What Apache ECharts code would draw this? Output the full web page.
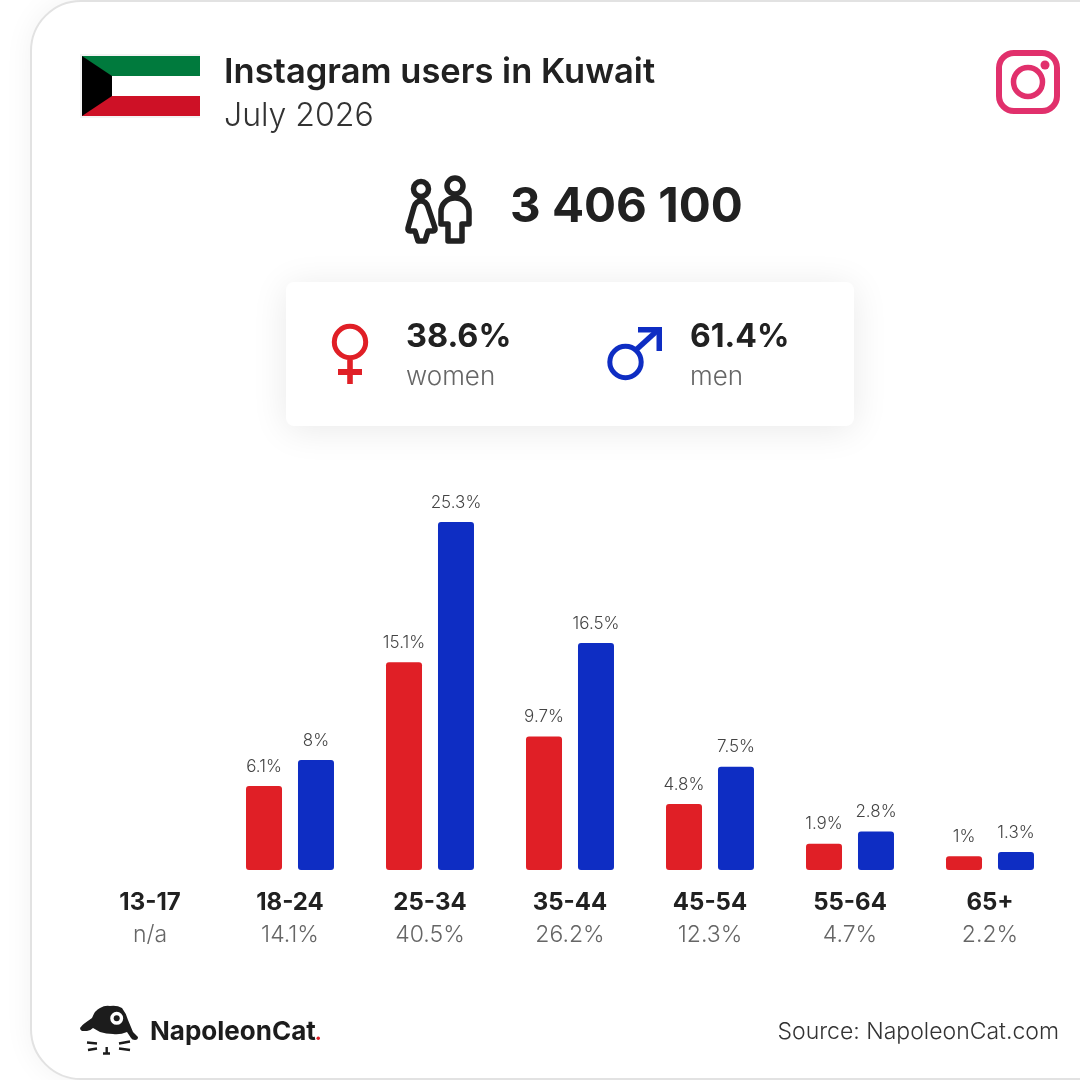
<!DOCTYPE html>
<html><head><meta charset="utf-8">
<style>html,body{margin:0;padding:0;background:#fff}#c{width:1080px;height:1080px}</style>
<script src="https://cdn.jsdelivr.net/npm/echarts@6/dist/echarts.min.js"></script>
</head><body><div id="c"></div>
<script>
const ageGroups = ['13-17','18-24','25-34','35-44','45-54','55-64','65+'];
const ageTotals = ['n/a','14.1%','40.5%','26.2%','12.3%','4.7%','2.2%'];
const women = [null,6.1,15.1,9.7,4.8,1.9,1];
const men = [null,8,25.3,16.5,7.5,2.8,1.3];
const titleText = 'Instagram users in Kuwait';
const dateText = 'July 2026';
const totalText = '3 406 100';
const womenShare = '38.6%';
const menShare = '61.4%';
const FONT = 'Inter';
const INK = '#212121', RED = '#e01f26', BLUE = '#0e2dc3';

function T(x,y,text,size,weight,fill,align){
  return {type:'text',z:5,style:{x,y,text,fontFamily:FONT,fontSize:size,fontWeight:weight,fill,textAlign:align||'left',textVerticalAlign:'middle'}};
}
let pathCount = 0;
function P(d,style){
  const name = 'iconPath'+(pathCount++);
  echarts.graphic.registerShape(name, echarts.graphic.extendPath(d,{}));
  return {type:name,z:5,style};
}
function R(x,y,w,h,fill,r){return {type:'rect',z:5,shape:{x,y,width:w,height:h,r:r||0},style:{fill}};}
function C(cx,cy,r,stroke,lw,fill){return {type:'circle',z:5,shape:{cx,cy,r},style:{fill:fill||'none',stroke,lineWidth:lw}};}
function Poly(points,fill){return {type:'polygon',z:5,shape:{points},style:{fill}};}

const graphics = [
  {type:'rect',z:0,shape:{x:31,y:1,width:1140,height:1078,r:50},style:{fill:'#fff',stroke:'#e2e2e2',lineWidth:2,shadowBlur:30,shadowColor:'rgba(0,0,0,0.06)'}},
  {type:'rect',z:1,shape:{x:286,y:282,width:568,height:144,r:8},style:{fill:'#fff',shadowBlur:36,shadowColor:'rgba(0,0,0,0.09)',shadowOffsetY:4}},
  // flag
  R(80,54,120,64,'#f3f3f3'),
  R(82,56,118,20,'#007a3d'),R(82,76,118,20,'#ffffff'),R(82,96,118,20,'#ce1126'),
  Poly([[82,56],[112,76],[112,96],[82,116]],'#000000'),
  T(224,73,titleText,34.5,600,INK),
  T(224,116,dateText,32,300,'#333333'),
  // instagram
  {type:'rect',z:5,shape:{x:999,y:53,width:58,height:58,r:15},style:{fill:'none',stroke:'#e1306c',lineWidth:6}},
  C(1028,82,14.5,'#e1306c',5.5),C(1045,65,4.5,'#e1306c',0,'#e1306c'),
  // people
  C(421,189,7.5,INK,5.5),C(455,186,8,INK,5.5),
  P('M421 201Q416 201 414 207L408 228Q407.5 231 410 231L415 231L418 241L425 241L428 231L433 231Q435.5 231 435 228L428 207Q426 201 421 201Z',{fill:'none',stroke:INK,lineWidth:5.5,lineJoin:'round'}),
  P('M455 198C447 198 441 204 441 212L441 224L448 224L448 241L462 241L462 224L469 224L469 212C469 204 463 198 455 198Z',{fill:'none',stroke:INK,lineWidth:5.5,lineJoin:'round'}),
  T(510,208,totalText,47.5,700,INK),
  // female symbol
  C(350,342,15.7,RED,5),R(347.2,360,5.6,24,RED),R(338,369,24,6,RED),
  T(406,337,womenShare,32.5,700,INK),
  T(406,377,'women',26,300,'#666666'),
  // male symbol
  C(625.5,362,15.7,BLUE,5),
  P('M637 349L659 329',{fill:'none',stroke:BLUE,lineWidth:5.5}),
  R(638,327,24,5.5,BLUE),R(656.5,327,5.5,24,BLUE),
  T(690,337,menShare,32,700,INK),
  T(690,377,'men',26,300,'#666666'),
  // logo
  P('M80 1028Q82 1025 85 1023L92 1018Q95 1010 100 1008Q105 1005 110 1006Q117 1005 122 1008Q126 1013 128 1020L133 1032L138 1037Q138 1040 135 1040Q132 1040 131 1038L127 1032Q120 1035 113 1034Q106 1034 100 1032L93 1028Q90 1031 87 1031L82 1031Q80 1030 80 1028Z',{fill:'#1c1c1c'}),
  C(116.7,1018.3,6.5,'#fff',0,'#fff'),C(116.7,1018.3,3,'#1c1c1c',0,'#1c1c1c'),
  P('M87 1042.5L97 1043.5M88 1050L97 1048.5M119 1043.5L130 1041.5M119 1048.5L130 1050M106.7 1047L106.7 1053M103 1053.5L110 1053.5',{fill:'none',stroke:'#1c1c1c',lineWidth:2.4}),
  T(150,1032,'NapoleonCat',26,700,'#1c1c1c'),
  R(316.5,1036.5,3.5,3.5,'#e01f26',1.7),
  T(1059,1032,'Source: NapoleonCat.com',23,300,'#333333','right')
];

const bottomPx = 1080-870, topPx = 870-30*13.755;
const barLabel = {show:true,position:'top',distance:11,fontFamily:FONT,fontSize:17,fontWeight:300,color:'#444444',formatter:p=>p.value+'%'};
const chart = echarts.init(document.getElementById('c'),null,{renderer:'canvas'});
chart.setOption({
  animation:false,
  backgroundColor:'#ffffff',
  graphic:graphics,
  grid:{left:80,right:20,top:topPx,bottom:bottomPx,containLabel:false},
  xAxis:{type:'category',data:ageGroups,axisLine:{show:false},axisTick:{show:false},
    axisLabel:{margin:17,interval:0,
      formatter:(v,i)=>'{a|'+v+'}\n{b|'+ageTotals[i]+'}',
      rich:{a:{fontFamily:FONT,fontSize:24,fontWeight:700,color:INK,lineHeight:32},
            b:{fontFamily:FONT,fontSize:23,fontWeight:300,color:'#666666',lineHeight:32}}}},
  yAxis:{type:'value',min:0,max:30,show:false,splitLine:{show:false}},
  series:[
    {name:'women',type:'bar',data:women,barWidth:36,barGap:'44.4%',itemStyle:{color:RED,borderRadius:3},label:barLabel,z:3},
    {name:'men',type:'bar',data:men,barWidth:36,itemStyle:{color:BLUE,borderRadius:3},label:barLabel,z:3}
  ]
});
</script></body></html>
